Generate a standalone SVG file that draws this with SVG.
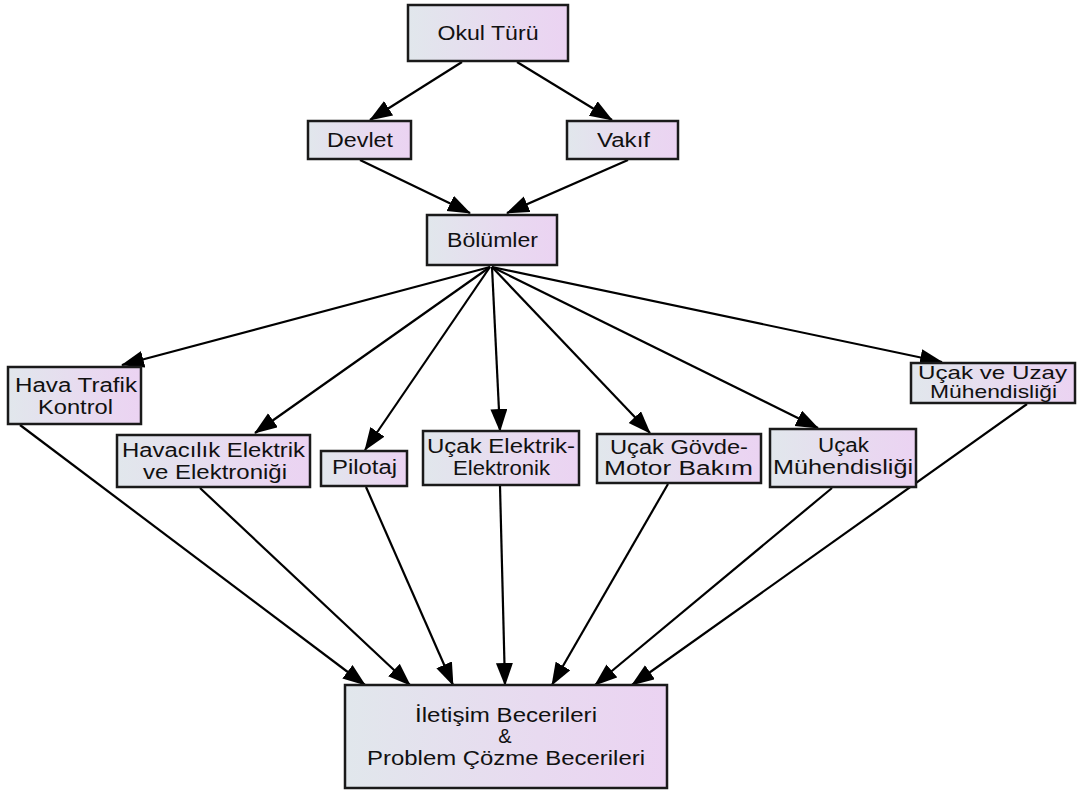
<svg xmlns="http://www.w3.org/2000/svg" width="1078" height="791" viewBox="0 0 1078 791">
<defs>
<linearGradient id="g" x1="0" y1="0" x2="1" y2="0">
<stop offset="0" stop-color="#e1e7ec"/>
<stop offset="0.6" stop-color="#e8daf0"/>
<stop offset="1" stop-color="#ebd3f2"/>
</linearGradient>
<marker id="a" markerUnits="userSpaceOnUse" markerWidth="24" markerHeight="18" refX="22" refY="8.5" orient="auto">
<path d="M0,0 L23,8.5 L0,17 Z" fill="#000"/>
</marker>
<style>
rect{fill:url(#g);stroke:#1a1a1a;stroke-width:2.5}
text{font-family:"Liberation Sans",Arial,sans-serif;font-size:20px;fill:#111;text-anchor:middle}
.s{font-size:19px}
.e{stroke:#000;stroke-width:2.2;fill:none;marker-end:url(#a)}
</style>
</defs>
<g id="edges">
<line class="e" x1="462" y1="62" x2="370" y2="120"/>
<line class="e" x1="517" y1="62" x2="612" y2="120"/>
<line class="e" x1="360" y1="160" x2="470" y2="213"/>
<line class="e" x1="628" y1="160" x2="507" y2="213"/>
<line class="e" x1="490" y1="267" x2="122" y2="365"/>
<line class="e" x1="490" y1="267" x2="255" y2="433"/>
<line class="e" x1="490" y1="267" x2="365" y2="450"/>
<line class="e" x1="492" y1="267" x2="500" y2="431"/>
<line class="e" x1="492" y1="267" x2="650" y2="433"/>
<line class="e" x1="492" y1="267" x2="818" y2="428"/>
<line class="e" x1="492" y1="267" x2="942" y2="362"/>
<line class="e" x1="20" y1="425" x2="365" y2="685"/>
<line class="e" x1="200" y1="488" x2="410" y2="685"/>
<line class="e" x1="366" y1="487" x2="453" y2="685"/>
<line class="e" x1="500" y1="486" x2="505" y2="685"/>
<line class="e" x1="668" y1="484" x2="552" y2="685"/>
<line class="e" x1="832" y1="488" x2="595" y2="685"/>
<line class="e" x1="1027" y1="404" x2="632" y2="685"/>
</g>
<g id="okul"><rect x="408" y="5" width="160" height="56"/><text x="488" y="40" textLength="101" lengthAdjust="spacingAndGlyphs">Okul Türü</text></g>
<g id="devlet"><rect x="308" y="121" width="103" height="38"/><text x="360" y="147" textLength="66" lengthAdjust="spacingAndGlyphs">Devlet</text></g>
<g id="vakif"><rect x="567" y="121" width="111" height="38"/><text x="623.5" y="147" textLength="53" lengthAdjust="spacingAndGlyphs">Vakıf</text></g>
<g id="bolumler"><rect x="427" y="215" width="130" height="50"/><text x="492.5" y="247" textLength="91" lengthAdjust="spacingAndGlyphs">Bölümler</text></g>
<g id="hava"><rect x="8" y="367" width="133" height="57"/><text x="76" y="392" textLength="122" lengthAdjust="spacingAndGlyphs">Hava Trafik</text><text x="75.5" y="414" textLength="75" lengthAdjust="spacingAndGlyphs">Kontrol</text></g>
<g id="havacilik"><rect x="117" y="435" width="193" height="52"/><text x="213.5" y="457" textLength="183" lengthAdjust="spacingAndGlyphs">Havacılık Elektrik</text><text x="215" y="479" textLength="144" lengthAdjust="spacingAndGlyphs">ve Elektroniği</text></g>
<g id="pilotaj"><rect x="321" y="451" width="86" height="35"/><text x="364.5" y="474" textLength="65" lengthAdjust="spacingAndGlyphs">Pilotaj</text></g>
<g id="ucakelektrik"><rect x="423" y="431" width="156" height="54"/><text x="501" y="453" textLength="148" lengthAdjust="spacingAndGlyphs">Uçak Elektrik-</text><text x="501.5" y="475" textLength="97" lengthAdjust="spacingAndGlyphs">Elektronik</text></g>
<g id="govde"><rect x="597" y="434" width="164" height="49"/><text x="679" y="454" textLength="138" lengthAdjust="spacingAndGlyphs">Uçak Gövde-</text><text x="678.5" y="475" textLength="149" lengthAdjust="spacingAndGlyphs">Motor Bakım</text></g>
<g id="ucakmuh"><rect x="770" y="429" width="146" height="58"/><text x="843.5" y="452" textLength="51" lengthAdjust="spacingAndGlyphs">Uçak</text><text x="843" y="474" textLength="140" lengthAdjust="spacingAndGlyphs">Mühendisliği</text></g>
<g id="uzay"><rect x="911" y="363" width="164" height="40"/><text class="s" x="992.5" y="379" textLength="149" lengthAdjust="spacingAndGlyphs">Uçak ve Uzay</text><text class="s" x="993.5" y="398" textLength="127" lengthAdjust="spacingAndGlyphs">Mühendisliği</text></g>
<g id="beceri"><rect x="345" y="685" width="322" height="103"/><text x="506" y="722" textLength="182" lengthAdjust="spacingAndGlyphs">İletişim Becerileri</text><text x="505" y="743">&amp;</text><text x="506" y="765" textLength="278" lengthAdjust="spacingAndGlyphs">Problem Çözme Becerileri</text></g>
</svg>
